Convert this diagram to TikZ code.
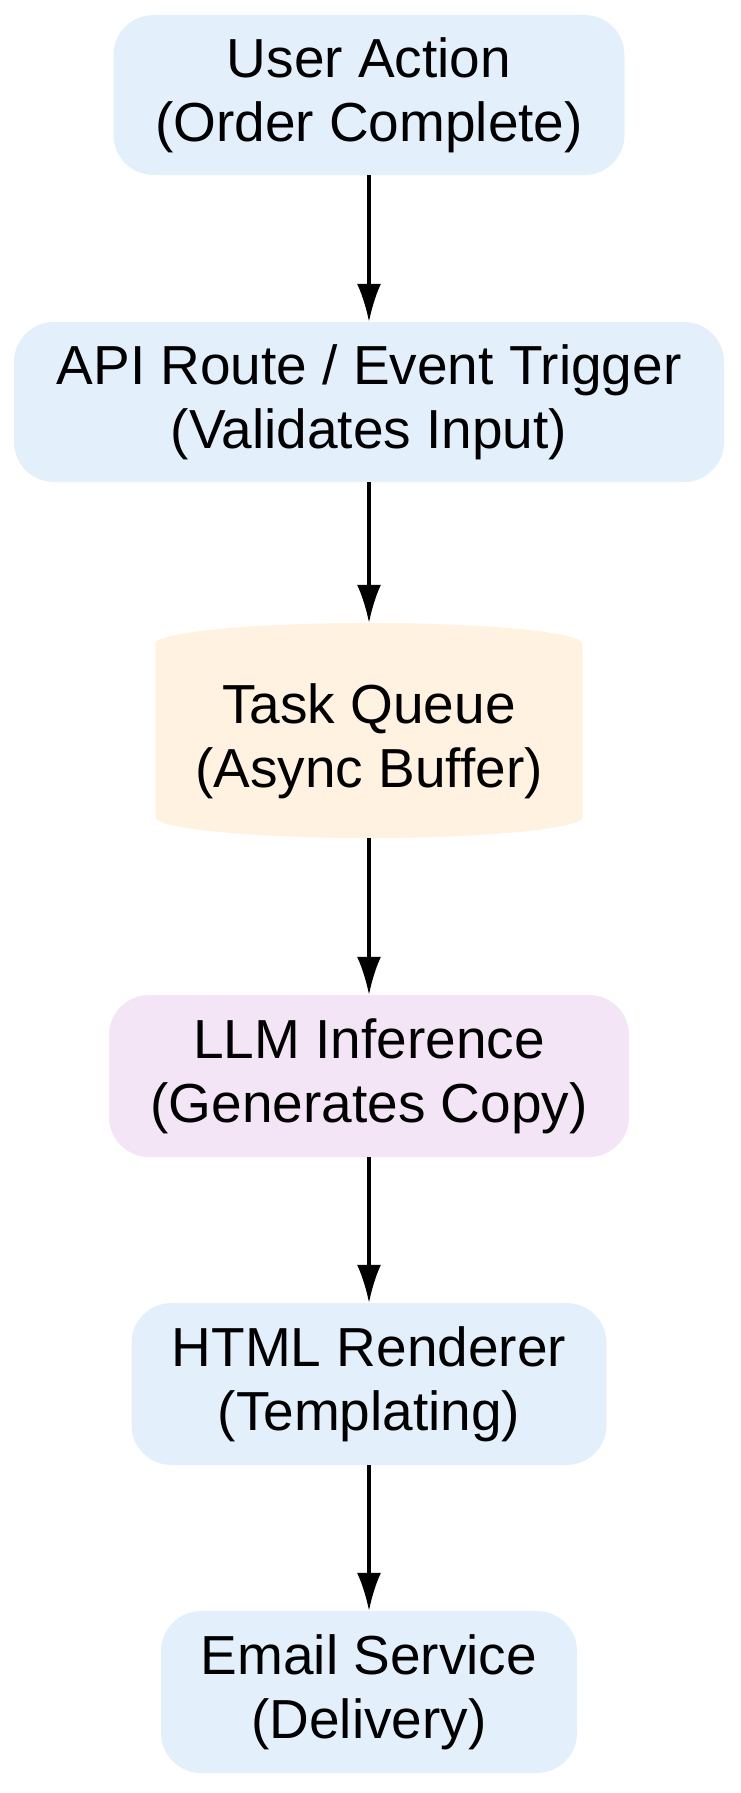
\documentclass[tikz,border=0pt]{standalone}
\usepackage{fontspec}
\setmainfont{Liberation Sans}
\usetikzlibrary{shapes.geometric,arrows.meta}
\definecolor{bl}{HTML}{E3F0FC}
\definecolor{og}{HTML}{FFF2E0}
\definecolor{pu}{HTML}{F3E5F5}
\begin{document}
\begin{tikzpicture}[x=1pt,y=1pt,
  box/.style={rectangle,rounded corners=40pt,draw=none,align=center,font=\fontsize{55}{64}\selectfont,inner sep=0pt},
  arr/.style={-{Latex[length=38pt,width=24pt]},line width=3.3pt}]
\useasboundingbox (0,0) rectangle (741,-1793);
\node[box,fill=bl,minimum width=511pt,minimum height=160pt] (a) at (369,-95) {User Action\\(Order Complete)};
\node[box,fill=bl,minimum width=710pt,minimum height=160pt] (b) at (369,-402) {API Route / Event Trigger\\(Validates Input)};
\node[cylinder,shape border rotate=90,aspect=0.12,fill=og,draw=none,align=center,font=\fontsize{55}{64}\selectfont,minimum width=427pt,minimum height=215pt,inner sep=0pt] (c) at (369,-741) {Task Queue\\(Async Buffer)};
\node[box,fill=pu,minimum width=520pt,minimum height=162pt] (d) at (369,-1076) {LLM Inference\\(Generates Copy)};
\node[box,fill=bl,minimum width=475pt,minimum height=162pt] (e) at (369,-1384) {HTML Renderer\\(Templating)};
\node[box,fill=bl,minimum width=416pt,minimum height=162pt] (f) at (369,-1692) {Email Service\\(Delivery)};
\draw[arr] (a) -- (b);
\draw[arr] (b) -- (c);
\draw[arr] (c) -- (d);
\draw[arr] (d) -- (e);
\draw[arr] (e) -- (f);
\end{tikzpicture}
\end{document}
